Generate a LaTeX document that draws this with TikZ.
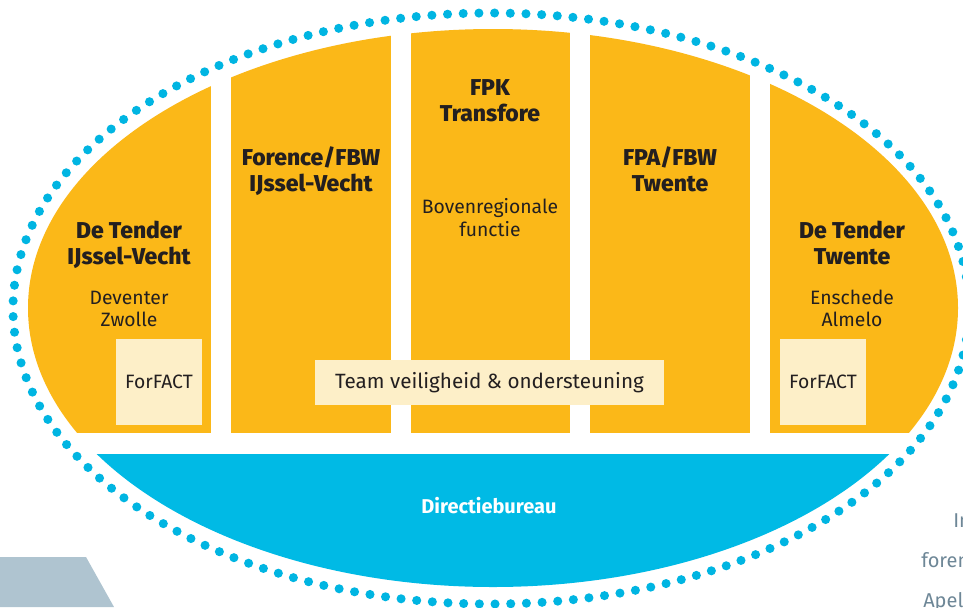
\documentclass[tikz,border=0pt]{standalone}
\usepackage{fontspec}
\setmainfont{Fira Sans}
\newfontfamily\headfont{Fira Sans ExtraBold}
\definecolor{gold}{HTML}{FBB818}
\definecolor{cream}{HTML}{FDEFC8}
\definecolor{sky}{HTML}{00BAE5}
\definecolor{dotc}{HTML}{00B5E2}
\definecolor{ink}{HTML}{231F20}
\definecolor{slate}{HTML}{AFC4D0}
\definecolor{pagetext}{HTML}{6E8797}
\begin{document}
\begin{tikzpicture}[x=0.75pt,y=-0.75pt,
  head/.style={font=\fontsize{17.2}{20}\selectfont\headfont, text=ink, inner sep=0pt, anchor=base},
  sub/.style={font=\fontsize{14.5}{17}\selectfont, text=ink, inner sep=0pt, anchor=base},
  creambox/.style={fill=cream, draw=none, font=\fontsize{14.5}{17}\selectfont, text=ink, inner sep=0pt},
  dotring/.style={draw=dotc, line width=6.8pt, line cap=round, dash pattern=on 0pt off 11.77pt},
  pagetxt/.style={font=\fontsize{15}{18}\selectfont, text=pagetext, inner sep=0pt, anchor=base west},
]
\clip (0,0) rectangle (963,607);
\fill[white] (0,0) rectangle (963,607);
\begin{scope}
  \clip (493,308) ellipse [x radius=465, y radius=279];
  \fill[gold] (0,0) rectangle (211,433);
  \fill[gold] (231,0) rectangle (391,433);
  \fill[gold] (411,0) rectangle (570,433);
  \fill[gold] (590,0) rectangle (750,433);
  \fill[gold] (770,0) rectangle (963,433);
  \fill[sky] (0,454) rectangle (963,607);
\end{scope}
\fill[slate] (0,557) -- (86,557) -- (114,607) -- (0,607) -- cycle;
\draw[dotring] (491,308.5) ellipse [x radius=478, y radius=295.5];

% cream boxes
\node[creambox, minimum width=64.5pt, minimum height=64.5pt] (ffl) at (159,382) {ForFACT};
\node[creambox, minimum width=64.5pt, minimum height=64.5pt] (ffr) at (823,382) {ForFACT};
\node[creambox, minimum width=261.75pt, minimum height=33.75pt, font=\fontsize{15.5}{18}\selectfont] (team) at (489.5,382.5) {Team veiligheid \& ondersteuning};

% column 1
\node[head] (c1a) at (129,238) {De Tender};
\node[head] (c1b) at (129,264) {IJssel-Vecht};
\node[sub] (c1c) at (129,304) {Deventer};
\node[sub] (c1d) at (129,326) {Zwolle};
% column 2
\node[head] (c2a) at (311,165) {Forence/FBW};
\node[head] (c2b) at (311,191) {IJssel-Vecht};
% column 3
\node[head] (c3a) at (490,95) {FPK};
\node[head] (c3b) at (490,121) {Transfore};
\node[sub] (c3c) at (490,213) {Bovenregionale};
\node[sub] (c3d) at (490,236) {functie};
% column 4
\node[head] (c4a) at (670,165) {FPA/FBW};
\node[head] (c4b) at (670,191) {Twente};
% column 5
\node[head] (c5a) at (852,238) {De Tender};
\node[head] (c5b) at (852,264) {Twente};
\node[sub] (c5c) at (852,304) {Enschede};
\node[sub] (c5d) at (852,326) {Almelo};

% bottom
\node[font=\fontsize{15}{18}\selectfont\bfseries, text=white, inner sep=0pt, anchor=base] (dir) at (489,513) {Directiebureau};

% cut-off page text
\node[pagetxt] (p1) at (953,527) {In};
\node[pagetxt] (p2) at (921,567) {foren};
\node[pagetxt] (p3) at (923,607) {Apel};
\end{tikzpicture}
\end{document}
